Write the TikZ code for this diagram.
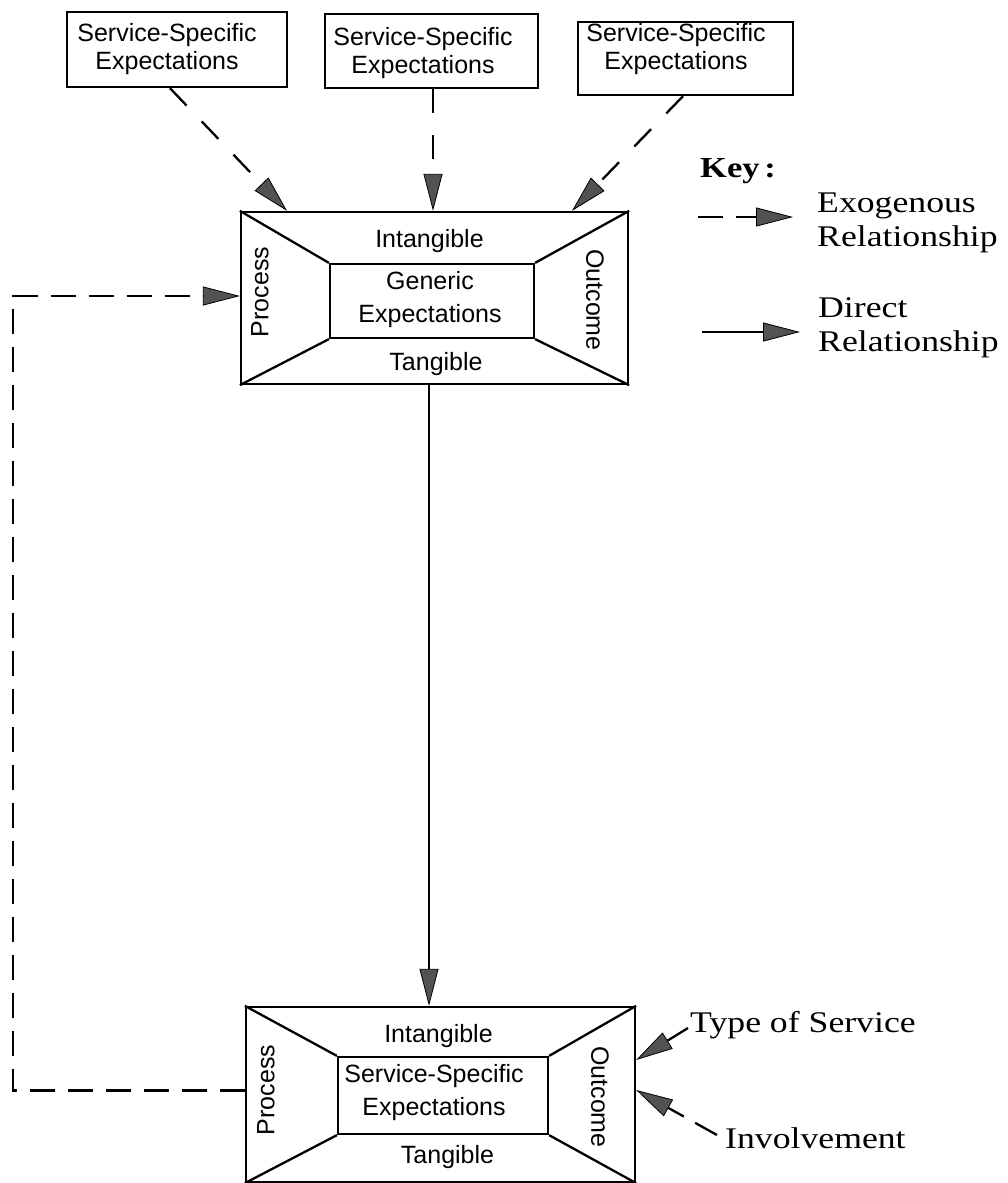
\documentclass[tikz,border=0pt]{standalone}
\usepackage{fontspec}
\setmainfont{Liberation Serif}
\newfontfamily\boxfont{Liberation Sans}
\newfontfamily\keyfont[FakeStretch=1.19]{Liberation Serif}
\usetikzlibrary{arrows.meta}
\begin{document}
\begin{tikzpicture}[x=1pt,y=-1pt,
  lw/.style={line width=2.3pt},
  tip/.style={-{Triangle[length=37pt,width=19pt,fill=black!68,line width=0.8pt]}},
  dashA/.style={dash pattern=on 24pt off 22pt},
  dashB/.style={dash pattern=on 25pt off 13pt},
  sbox/.style={draw,lw,inner sep=0pt},
  stxt/.style={font=\boxfont\fontsize{25}{28}\selectfont,align=center,inner sep=0pt},
  itxt/.style={font=\boxfont\fontsize{25}{33}\selectfont,align=center,inner sep=0pt},
  ltxt/.style={font=\boxfont\fontsize{25}{28}\selectfont,inner sep=0pt},
  ktxt/.style={font=\keyfont\fontsize{30}{34}\selectfont,inner sep=0pt,align=left}
]
\useasboundingbox (0,0) rectangle (1007,1183);

% top service-specific boxes
\node[sbox,minimum width=220pt,minimum height=75pt] (s1) at (177,49.5) {};
\node[stxt] (s1t) at (167,49.5) {Service-Specific\\Expectations};
\node[sbox,minimum width=213pt,minimum height=74pt] (s2) at (431.5,51) {};
\node[stxt] (s2t) at (423,53) {Service-Specific\\Expectations};
\node[sbox,minimum width=215pt,minimum height=73pt] (s3) at (685.5,58.5) {};
\node[stxt] (s3t) at (676,49) {Service-Specific\\Expectations};

% generic expectations frame
\node[sbox,minimum width=387pt,minimum height=172pt] (gen) at (434.5,298) {};
\node[sbox,minimum width=204pt,minimum height=74pt] (geni) at (432,301) {};
\node[itxt] (gent) at (430,300) {Generic\\Expectations};
\draw[lw] (gen.north west) -- (geni.north west);
\draw[lw] (gen.north east) -- (geni.north east);
\draw[lw] (gen.south west) -- (geni.south west);
\draw[lw] (gen.south east) -- (geni.south east);
\node[ltxt,anchor=base] (gint) at (429.5,247) {Intangible};
\node[ltxt,anchor=base] (gtan) at (436,370) {Tangible};
\node[ltxt,rotate=90] (gpro) at (260,292) {Process};
\node[ltxt,rotate=-90] (gout) at (595,300) {Outcome};

% service-specific frame
\node[sbox,minimum width=389pt,minimum height=175pt] (bot) at (440.5,1094.5) {};
\node[sbox,minimum width=210pt,minimum height=77pt] (boti) at (443,1095.5) {};
\node[itxt] (bott) at (434,1093) {Service-Specific\\Expectations};
\draw[lw] (bot.north west) -- (boti.north west);
\draw[lw] (bot.north east) -- (boti.north east);
\draw[lw] (bot.south west) -- (boti.south west);
\draw[lw] (bot.south east) -- (boti.south east);
\node[ltxt,anchor=base] (bint) at (438.5,1042) {Intangible};
\node[ltxt,anchor=base] (btan) at (447.5,1163) {Tangible};
\node[ltxt,rotate=90] (bpro) at (266,1090) {Process};
\node[ltxt,rotate=-90] (bout) at (600,1097) {Outcome};

% arrows from top boxes
\draw[lw,dashA,tip] ([xshift=-7pt]s1.south) -- ([xshift=-147.5pt]gen.north);
\draw[lw,dashA,tip] ([xshift=1.5pt]s2.south) -- ([xshift=-1.5pt]gen.north);
\draw[lw,dashA,tip] ([xshift=-2.5pt]s3.south) -- ([xshift=137.5pt]gen.north);

% direct relationship
\draw[lw,tip] ([xshift=-5.5pt]gen.south) -- ([xshift=-11.5pt]bot.north);

% feedback loop
\coordinate (fb) at (13,296);
\draw[lw,dashB,tip] ([yshift=4pt]bot.west) -| (fb) -- ([yshift=2pt]gen.west);

% key
\node[font=\keyfont\bfseries\fontsize{29}{30}\selectfont,inner sep=0pt,anchor=base west] (key) at (700,177) {Key\,:};
\coordinate (k1a) at (698,217);
\coordinate (k1b) at (793,217);
\draw[lw,dashB,tip] (k1a) -- (k1b);
\node[ktxt,anchor=north west] (k1t) at (817,193) {Exogenous\\Relationship};
\coordinate (k2a) at (702,332);
\coordinate (k2b) at (800,332);
\draw[lw,tip] (k2a) -- (k2b);
\node[ktxt,anchor=north west] (k2t) at (818,297) {Direct\\Relationship};

% type of service / involvement
\node[ktxt,anchor=base west] (tos) at (690,1032) {Type of Service};
\node[ktxt,anchor=base west] (inv) at (725,1148) {Involvement};
\coordinate (tosa) at (688,1028);
\coordinate (inva) at (717,1135);
\draw[lw,tip] (tosa) -- ([yshift=34.5pt]bot.east);
\draw[lw,dashB,tip] (inva) -- ([yshift=4.5pt]bot.east);
\end{tikzpicture}
\end{document}
